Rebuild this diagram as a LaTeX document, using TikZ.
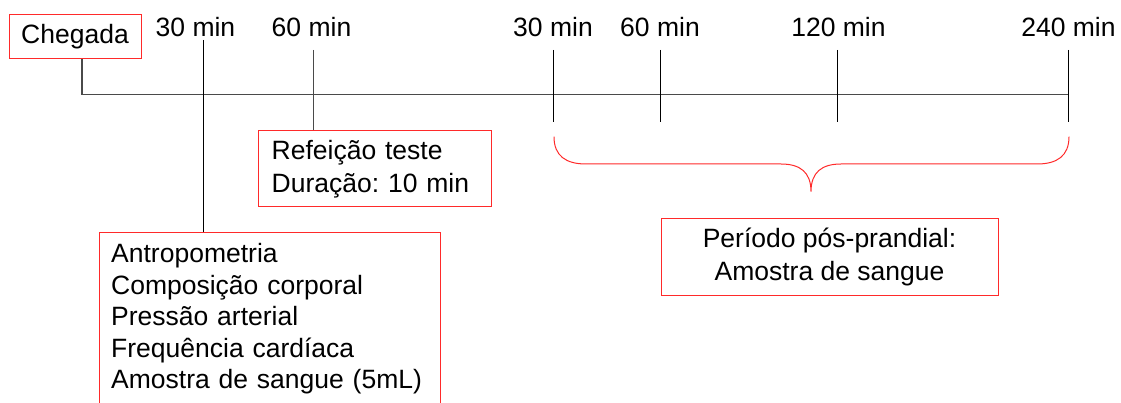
\documentclass[tikz,border=0pt]{standalone}
\usepackage{fontspec}
\setmainfont{Liberation Sans}
\usetikzlibrary{calc}
\definecolor{framered}{HTML}{FF2A2A}
\definecolor{axisgray}{HTML}{4A4A4A}
\frenchspacing
\begin{document}
\begin{tikzpicture}[x=1pt,y=-1pt,
  every node/.style={font=\fontsize{26.5}{31.5}\selectfont, text=black},
  redbox/.style={draw=framered, line width=1pt},
  tick/.style={draw=black, line width=1pt},
  axis/.style={draw=axisgray, line width=1.2pt},
  timelabel/.style={anchor=base, inner sep=0pt},
  brace/.style={draw=framered, line width=1pt}]
\clip (0,0) rectangle (1121,403);

% boxes
\node[redbox, minimum width=132pt, minimum height=43.7pt, inner sep=0pt]
  (arrive) at (75,36.85) {Chegada};
\node[redbox, align=left, text width=205.6pt, inner xsep=13.7pt, minimum height=76pt,
  font=\fontsize{26.5}{33}\selectfont]
  (meal) at (374.5,169) {Refeição teste\\Duração: 10 min};
\node[redbox, anchor=north west, align=left, text width=317.6pt, inner xsep=11.7pt, inner ysep=11.1pt]
  (measures) at (99,232) {Antropometria\\Composição corporal\\Pressão arterial\\Frequência cardíaca\\Amostra de sangue (5mL)\rule[-20pt]{0pt}{0pt}};
\node[redbox, align=center, minimum width=337pt, minimum height=76.3pt,
  font=\fontsize{26.5}{32.4}\selectfont]
  (period) at (829.5,256.85) {Período pós-prandial:\\Amostra de sangue};

% time labels
\node[timelabel] (la30) at (195.5,36.5) {30 min};
\node[timelabel] (la60) at (311.5,36.5) {60 min};
\node[timelabel] (lb30) at (553,36.5) {30 min};
\node[timelabel] (lb60) at (660,36.5) {60 min};
\node[timelabel] (lb120) at (838.5,36.5) {120 min};
\node[timelabel] (lb240) at (1068.5,36.5) {240 min};

% time axis
\coordinate (start) at (82,94.5);
\coordinate (end) at (1068,94.5);
\draw[axis] (arrive.south -| start) -- (start) -- (end);

% ticks before the meal
\coordinate (t30) at (203,40);
\coordinate (t60) at (313,50);
\draw[tick] (t30) -- (t30 |- measures.north);
\draw[tick, draw=axisgray] (t60) -- (t60 |- meal.north);

% post-prandial ticks
\foreach \n/\x in {a/553.5, b/660.4, c/837.8, d/1068} {
  \coordinate (p\n top) at (\x,50);
  \coordinate (p\n bot) at (\x,122);
  \draw[tick] (p\n top) -- (p\n bot);
}

% brace over the post-prandial period
\coordinate (bl) at (554,136.7);
\coordinate (tip) at (811,191.7);
\coordinate (br) at (1069,136.7);
\draw[brace] (bl) .. controls (554,156) and (566,164) .. (586,164)
  -- (781,164) .. controls (800,164) and (811,172) .. (tip)
  .. controls (811,172) and (822,164) .. (841,164)
  -- (1037,164) .. controls (1057,164) and (1069,156) .. (br);
\end{tikzpicture}
\end{document}
